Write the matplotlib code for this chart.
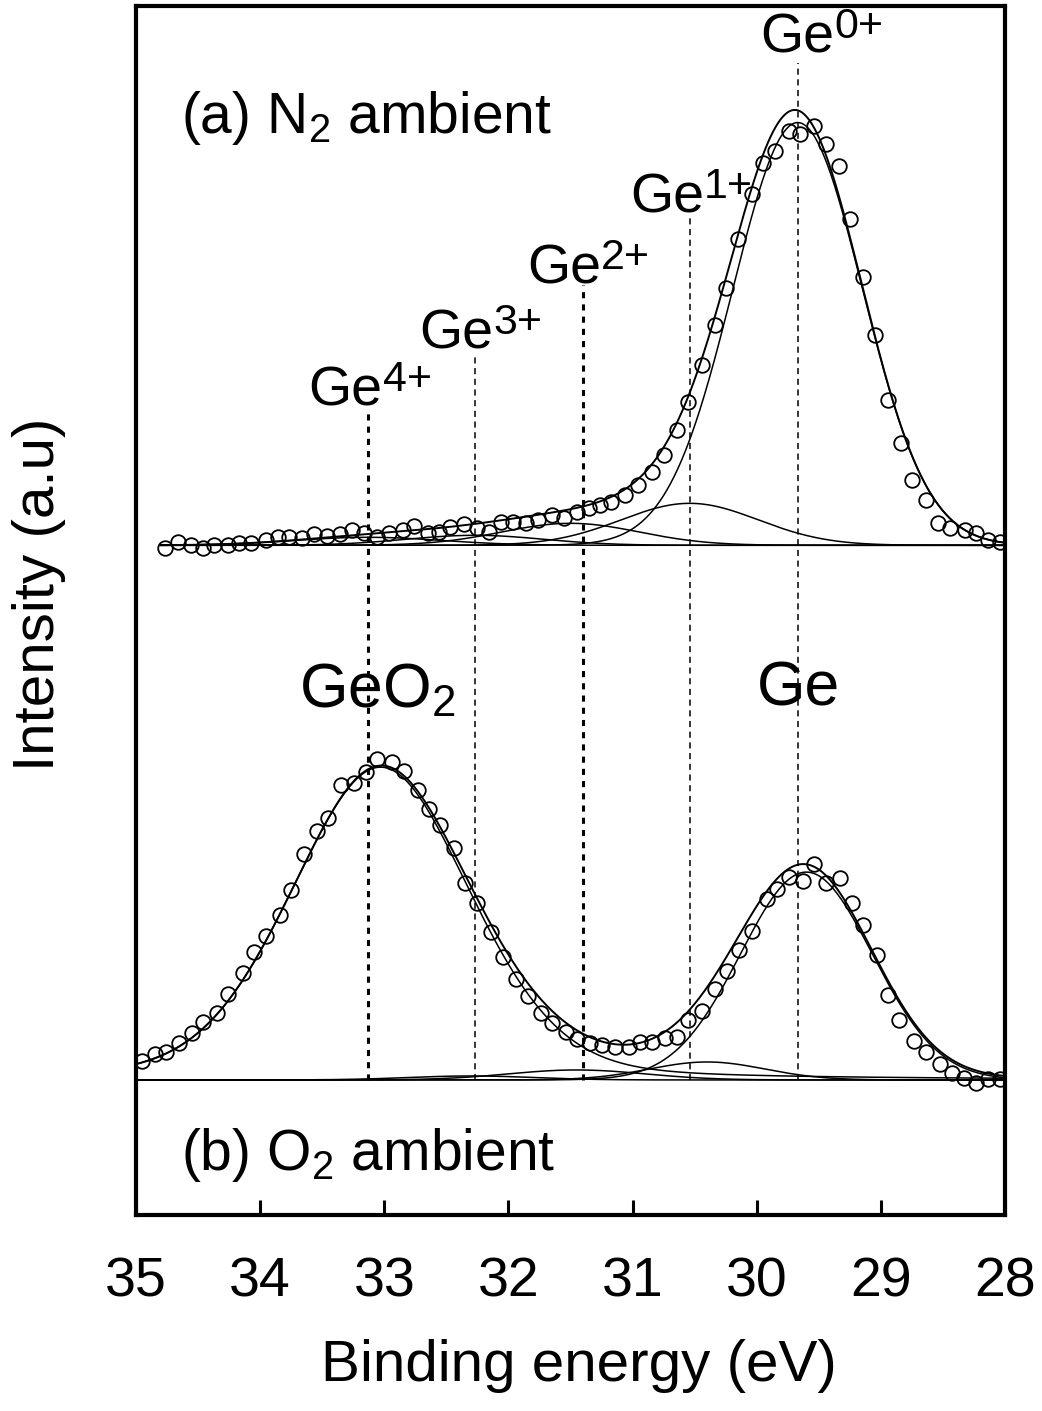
import numpy as np
import matplotlib
matplotlib.use('Agg')
import matplotlib.pyplot as plt

# measured points, N2 ambient (binding energy eV, intensity above baseline)
be_n2 = [34.77, 34.66, 34.56, 34.46, 34.37, 34.26, 34.17, 34.07, 33.95, 33.86,
         33.77, 33.66, 33.57, 33.46, 33.36, 33.26, 33.16, 33.06, 32.96, 32.85,
         32.76, 32.65, 32.56, 32.47, 32.36, 32.25, 32.16, 32.06, 31.96, 31.86,
         31.76, 31.65, 31.55, 31.45, 31.35, 31.26, 31.17, 31.06, 30.96, 30.84,
         30.75, 30.64, 30.55, 30.44, 30.34, 30.25, 30.15, 30.04, 29.95, 29.85,
         29.74, 29.65, 29.54, 29.44, 29.34, 29.25, 29.14, 29.05, 28.94, 28.84,
         28.75, 28.64, 28.54, 28.44, 28.32, 28.23, 28.14, 28.04]
int_n2 = [-3, 3, 0, -3, 0, 0, 2, 2, 5, 8,
          8, 7, 11, 9, 11, 15, 12, 8, 12, 15,
          19, 12, 13, 18, 21, 17, 13, 23, 23, 22,
          25, 30, 27, 33, 37, 40, 43, 50, 60, 73,
          90, 115, 143, 180, 220, 257, 306, 352, 383, 395,
          415, 412, 420, 402, 380, 327, 268, 210, 145, 102,
          65, 45, 22, 17, 15, 12, 5, 3]

# measured points, O2 ambient
be_o2 = [34.95, 34.85, 34.76, 34.65, 34.55, 34.46, 34.35, 34.26, 34.14, 34.05,
         33.95, 33.84, 33.75, 33.65, 33.54, 33.45, 33.35, 33.24, 33.15, 33.06,
         32.94, 32.84, 32.73, 32.64, 32.55, 32.44, 32.35, 32.25, 32.14, 32.04,
         31.94, 31.84, 31.74, 31.65, 31.54, 31.45, 31.34, 31.25, 31.14, 31.03,
         30.94, 30.84, 30.74, 30.64, 30.55, 30.44, 30.34, 30.24, 30.14, 30.04,
         29.92, 29.84, 29.74, 29.63, 29.54, 29.44, 29.33, 29.23, 29.14, 29.03,
         28.94, 28.85, 28.73, 28.64, 28.52, 28.43, 28.33, 28.23, 28.14, 28.04]
int_o2 = [19, 26, 28, 37, 47, 58, 67, 86, 107, 128,
          144, 165, 190, 226, 249, 262, 295, 297, 308, 321,
          318, 309, 290, 271, 255, 232, 197, 177, 148, 123,
          101, 84, 67, 57, 48, 41, 37, 35, 33, 33,
          38, 38, 42, 43, 60, 69, 91, 109, 130, 149,
          181, 191, 203, 199, 216, 197, 202, 177, 155, 125,
          85, 60, 39, 28, 16, 7, 2, -3, 1, 1]

# fitted components (center, height, fwhm, lorentz fraction)
n2_center = [33.13, 32.27, 31.50, 30.54, 29.67]
n2_height = [8, 10, 22, 42, 423]
n2_fwhm = [1.4, 1.3, 1.3, 1.3, 1.23]
n2_eta = [0, 0, 0, 0, 0]

o2_center = [33.03, 32.30, 31.45, 30.40, 29.60]
o2_height = [313, 4, 10, 18, 208]
o2_fwhm = [1.70, 1.2, 1.3, 1.1, 1.25]
o2_eta = [0.2, 0, 0, 0, 0]

charges = ['4+', '3+', '2+', '1+', '0+']
state_be = [33.13, 32.27, 31.40, 30.54, 29.67]

off_n2 = 670
off_o2 = 135


def peak(x, c, h, w, eta):
    g = np.exp(-4 * np.log(2) * ((x - c) / w) ** 2)
    l = 1 / (1 + (2 * (x - c) / w) ** 2)
    return h * ((1 - eta) * g + eta * l)


plt.rcParams['font.family'] = ['Liberation Sans', 'DejaVu Sans']
plt.rcParams['mathtext.fontset'] = 'custom'
plt.rcParams['mathtext.rm'] = 'Liberation Sans'
plt.rcParams['mathtext.it'] = 'Liberation Sans:italic'
plt.rcParams['mathtext.bf'] = 'Liberation Sans:bold'

fig = plt.figure(figsize=(10.42, 14.11), dpi=100)
ax = fig.add_axes([0.1305, 0.139, 0.834, 0.857])

# vertical marker lines
tops = [805, 862, 930, 1000, 1153]
for i in range(len(state_be)):
    if i in (0, 2):
        ax.plot([state_be[i]] * 2, [off_o2, tops[i]], color='black', lw=2.2,
                ls=(0, (2, 2)), zorder=1)
    else:
        ax.plot([state_be[i]] * 2, [off_o2, tops[i]], color='black', lw=1.1,
                ls=(0, (4, 3)), zorder=1)

# N2 fit
x1 = np.linspace(34.8, 28.0, 700)
tot = np.zeros_like(x1)
for c, h, w, e in zip(n2_center, n2_height, n2_fwhm, n2_eta):
    y = peak(x1, c, h, w, e)
    tot += y
    ax.plot(x1, y + off_n2, color='black', lw=1.1, zorder=2)
ax.plot(x1, tot + off_n2, color='black', lw=1.4, zorder=2)
ax.plot(be_n2, np.array(int_n2) + off_n2, 'o', mfc='none', mec='black',
        ms=10.5, mew=1.3, zorder=3)

# O2 fit
x2 = np.linspace(35.0, 28.0, 700)
tot = np.zeros_like(x2)
for c, h, w, e in zip(o2_center, o2_height, o2_fwhm, o2_eta):
    y = peak(x2, c, h, w, e)
    tot += y
    ax.plot(x2, y + off_o2, color='black', lw=1.1, zorder=2)
ax.plot(x2, tot + off_o2, color='black', lw=1.4, zorder=2)
ax.plot(be_o2, np.array(int_o2) + off_o2, 'o', mfc='none', mec='black',
        ms=10.5, mew=1.3, zorder=3)

# labels
lab_x = [33.61, 32.72, 31.85, 31.02, 29.97]
lab_y = [810, 867, 932, 1003, 1163]
for q, lx, ly in zip(charges, lab_x, lab_y):
    t = ax.text(lx, ly, 'Ge', fontsize=40, ha='left', va='baseline')
    ax.annotate(q, xy=(1, 1), xycoords=t, xytext=(0, 4), textcoords='offset points',
                fontsize=31, ha='left', va='top')

ax.text(34.64, 1083, '(a) N$_{\\mathrm{2}}$ ambient', fontsize=41, ha='left', va='baseline')
ax.text(34.64, 45, '(b) O$_{\\mathrm{2}}$ ambient', fontsize=41, ha='left', va='baseline')
ax.text(33.69, 508, 'GeO$_{\\mathrm{2}}$', fontsize=45, ha='left', va='baseline')
ax.text(30.0, 510, 'Ge', fontsize=45, ha='left', va='baseline')

ax.set_xlim(35, 28)
ax.set_ylim(0, 1210)
ax.set_xticks(range(35, 27, -1))
ax.set_yticks([])
ax.tick_params(axis='x', direction='in', length=11, width=2.2, labelsize=40, pad=30,
               top=False)
for sp in ax.spines.values():
    sp.set_linewidth(3)

ax.set_xlabel('Binding energy (eV)', fontsize=42)
ax.xaxis.set_label_coords(0.51, -0.103)
ax.set_ylabel('Intensity (a.u)', fontsize=42)
ax.yaxis.set_label_coords(-0.080, 0.513)

fig.savefig('out.png', dpi=100)
